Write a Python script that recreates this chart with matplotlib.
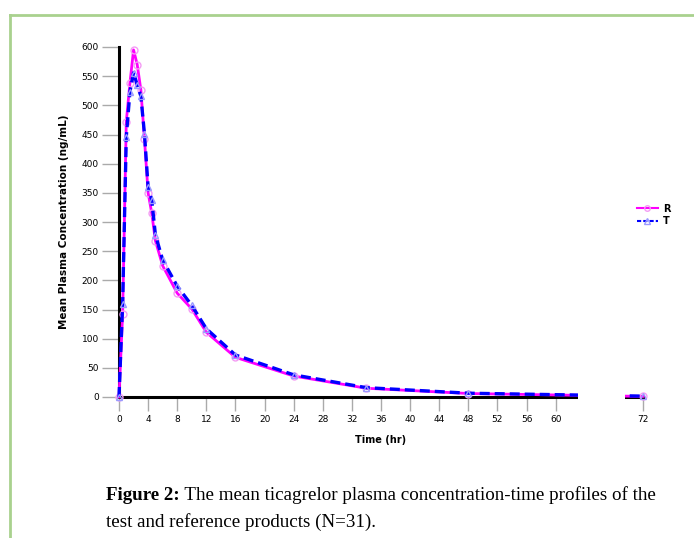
import numpy as np
import matplotlib
matplotlib.use('Agg')
import matplotlib.pyplot as plt
from matplotlib.patches import Rectangle
from matplotlib.lines import Line2D

# sampling times (hr) and mean concentrations (ng/mL)
time = [0, 0.5, 1, 1.5, 2, 2.5, 3, 3.5, 4, 4.5, 5, 6, 8, 10, 12, 16, 24, 34, 48, 72]
conc_R = [0, 142, 472, 538, 595, 570, 527, 442, 350, 315, 268, 225, 178, 151, 111, 68, 36, 15, 6, 1]
conc_T = [0, 160, 446, 523, 556, 535, 516, 451, 360, 338, 278, 235, 190, 157, 117, 72, 38, 16, 6.5, 1.5]

xticks = list(range(0, 61, 4)) + [72]
yticks = list(range(0, 601, 50))

fig = plt.figure(figsize=(6.94, 5.38), dpi=100)
ax = fig.add_axes([119 / 694, 1 - 397 / 538, (643 - 119) / 694, (397 - 47) / 538])

ax.plot(time, conc_R, color='#ff00ff', lw=2, marker='o', ms=5,
        mfc='none', mec='#f49cf4', mew=1, clip_on=False, zorder=3, label='R')
ax.plot(time, conc_T, color='#0000ff', lw=2.4, ls=(0, (3, 1.5)), marker='^', ms=5,
        mfc='none', mec='#9a9aff', mew=1, clip_on=False, zorder=4, label='T')

# axis break between ~63 and ~69.5 hr
ax.add_patch(Rectangle((63, -20), 6.5, 60, facecolor='white', edgecolor='none',
                       clip_on=False, zorder=6))

ax.set_xlim(0, 72)
ax.set_ylim(0, 600)
ax.set_xticks(xticks)
ax.set_yticks(yticks)
ax.tick_params(axis='both', direction='out', color='#aaaaaa', width=1, labelsize=6.5)
ax.tick_params(axis='y', length=12.5, pad=2)
ax.tick_params(axis='x', length=10, pad=3)

for s in ['top', 'right']:
    ax.spines[s].set_visible(False)
for s in ['left', 'bottom']:
    ax.spines[s].set_linewidth(2.2)
    ax.spines[s].set_color('black')
    ax.spines[s].set_zorder(2.5)

ax.set_xlabel('Time (hr)', fontsize=7, fontweight='bold', labelpad=8)
ax.set_ylabel('Mean Plasma Concentration (ng/mL)', fontsize=7.5, fontweight='bold', labelpad=9)

handles = [Line2D([], [], color='#ff00ff', lw=1.5, marker='o', ms=4, mfc='none', mec='#f49cf4'),
           Line2D([], [], color='#0000ff', lw=1.5, ls=(0, (2, 1)), marker='^', ms=4, mfc='none', mec='#9a9aff')]
leg = fig.legend(handles, ['R', 'T'], loc='center left', bbox_to_anchor=(628 / 694, 1 - 215 / 538),
                 frameon=False, handlelength=2.2, handletextpad=0.5, labelspacing=0.25,
                 prop={'size': 7, 'weight': 'bold'})

# green frame
green = '#a9d18e'
fig.add_artist(Line2D([10 / 694, 1], [1 - 15 / 538, 1 - 15 / 538], color=green, lw=2))
fig.add_artist(Line2D([10 / 694, 10 / 694], [0, 1 - 15 / 538], color=green, lw=2))

# caption
serif = ['Liberation Serif', 'DejaVu Serif']
t1 = fig.text(106 / 694, 1 - 500 / 538, 'Figure 2:', fontsize=13.7, fontweight='bold',
              family=serif, va='baseline')
ax.annotate(' The mean ticagrelor plasma concentration-time profiles of the',
            xy=(1, 0), xycoords=t1, xytext=(0, 0), textcoords='offset points',
            fontsize=13.7, family=serif, va='bottom', annotation_clip=False)
fig.text(106 / 694, 1 - 527 / 538, 'test and reference products (N=31).', fontsize=13.7,
         family=serif, va='baseline')

fig.savefig('out.png', dpi=100)
